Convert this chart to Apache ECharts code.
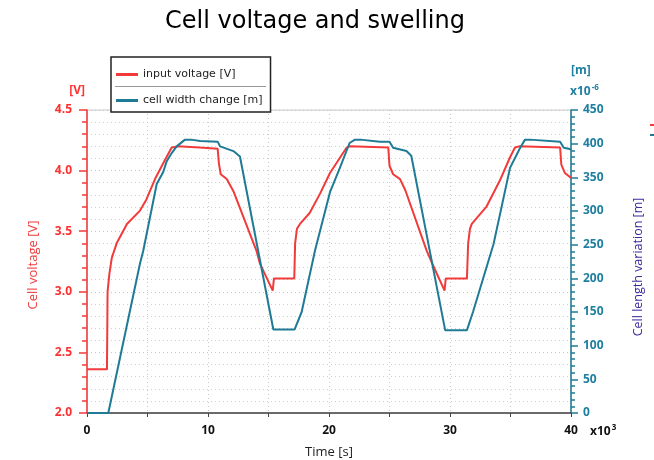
<!DOCTYPE html>
<html>
<head>
<meta charset="utf-8">
<script src="https://cdn.jsdelivr.net/npm/echarts@6/dist/echarts.min.js"></script>
<style>
  html, body { margin: 0; padding: 0; background: #fff; }
  #main { width: 654px; height: 460px; }
</style>
</head>
<body>
<div id="main"></div>
<script>
// time in 10^3 s, voltage in V
var voltageData = [
  [0, 2.36], [1.65, 2.36], [1.7, 3.0], [1.85, 3.15], [2.05, 3.28], [2.45, 3.40],
  [3.3, 3.56], [4.38, 3.67], [4.9, 3.76], [5.62, 3.93], [6.3, 4.06], [7.0, 4.19],
  [7.5, 4.2], [9.3, 4.19], [10.8, 4.18], [10.9, 4.06], [11.05, 3.97], [11.55, 3.93],
  [12.1, 3.83], [14.0, 3.34], [14.3, 3.23], [15.35, 3.01], [15.45, 3.11], [17.13, 3.11],
  [17.2, 3.4], [17.35, 3.52], [17.6, 3.56], [18.4, 3.65], [19.26, 3.81], [20.08, 3.98],
  [21.0, 4.12], [21.46, 4.19], [21.7, 4.2], [24.9, 4.19], [25.0, 4.04], [25.3, 3.97],
  [25.87, 3.93], [26.3, 3.84], [28.07, 3.34], [28.5, 3.24], [29.55, 3.01], [29.65, 3.11],
  [31.4, 3.11], [31.5, 3.4], [31.65, 3.52], [31.8, 3.56], [33.0, 3.70], [34.13, 3.92],
  [34.96, 4.11], [35.37, 4.19], [35.7, 4.2], [39.1, 4.19], [39.2, 4.05], [39.5, 3.98],
  [40, 3.94]
];
// time in 10^3 s, width change in 10^-6 m
var widthData = [
  [0, 0], [1.76, 0], [4.38, 222], [4.65, 241], [5.76, 340], [6.3, 358], [6.59, 374],
  [7.0, 386], [7.41, 396], [8.1, 406], [8.6, 406], [9.34, 404], [10.8, 403], [11.0, 396],
  [11.1, 394], [12.1, 389], [12.64, 381], [15.4, 124], [17.15, 124], [17.74, 150],
  [18.84, 241], [20.08, 328], [20.9, 364], [21.7, 401], [22.15, 406], [22.6, 406],
  [24.2, 403], [25.0, 403], [25.3, 394], [26.4, 389], [26.8, 382], [29.6, 123],
  [31.4, 123], [31.9, 150], [33.6, 251], [34.96, 364], [35.8, 394], [36.2, 406],
  [36.6, 406], [39.1, 403], [39.4, 394], [39.9, 392], [40, 391]
];
var seriesNames = ['input voltage [V]', 'cell width change [m]'];

var RED = '#f23a3a';
var TEAL = '#1f7b95';
var FONT = '"Open Sans", "Noto Sans", sans-serif';
var WIDE = '"DejaVu Sans", sans-serif';

var myChart = echarts.init(document.getElementById('main'));
var option = {
  animation: false,
  backgroundColor: '#fff',
  textStyle: { fontFamily: FONT },
  title: {
    text: 'Cell voltage and swelling',
    left: 160,
    top: 5,
    textStyle: { fontSize: 24, fontWeight: 'normal', color: '#000', fontFamily: WIDE }
  },
  legend: {
    orient: 'vertical',
    left: 111,
    top: 57,
    padding: [12, 8, 6, 5],
    itemGap: 15,
    itemWidth: 22,
    itemHeight: 3,
    icon: 'rect',
    backgroundColor: '#fff',
    borderColor: '#222',
    borderWidth: 1.5,
    borderRadius: 0,
    textStyle: { fontSize: 11, color: '#222', fontFamily: WIDE },
    data: seriesNames
  },
  grid: {
    left: 87, right: 83, top: 110, bottom: 47,
    outerBoundsMode: 'none',
    show: true, borderColor: '#c8c8c8', borderWidth: 1
  },
  xAxis: {
    type: 'value',
    min: 0, max: 40, interval: 5,
    name: 'Time [s]',
    nameLocation: 'middle',
    nameGap: 33,
    nameTextStyle: { fontSize: 13, color: '#222' },
    axisLine: { lineStyle: { color: '#444', width: 1.5 } },
    axisTick: { show: true, length: 4, lineStyle: { color: '#444' } },
    axisLabel: {
      margin: 12,
      color: '#111',
      fontWeight: 'bold',
      fontSize: 12,
      formatter: function (v) { return v % 10 === 0 ? v : ''; }
    },
    splitLine: { show: true, lineStyle: { color: '#c8c8c8', type: [1, 3] } }
  },
  yAxis: [
    {
      type: 'value',
      min: 2, max: 4.5, interval: 0.5,
      position: 'left',
      axisLine: { show: true, lineStyle: { color: RED, width: 1.5 } },
      axisTick: { show: true, length: 8, lineStyle: { color: RED, width: 1.5 } },
      minorTick: { show: true, splitNumber: 5, length: 5, lineStyle: { color: RED, width: 1.5 } },
      axisLabel: {
        margin: 15, color: '#ff3030', fontWeight: 'bold', fontSize: 12,
        formatter: function (v) { return v.toFixed(1); }
      },
      splitLine: { show: true, lineStyle: { color: '#c8c8c8', type: [1, 3] } },
      minorSplitLine: { show: true, lineStyle: { color: '#d0d0d0', type: [1, 3] } }
    },
    {
      type: 'value',
      min: 0, max: 450, interval: 50,
      position: 'right',
      axisLine: { show: true, lineStyle: { color: TEAL, width: 1.5 } },
      axisTick: { show: true, length: 7, lineStyle: { color: TEAL, width: 1.5 } },
      minorTick: { show: true, splitNumber: 5, length: 4, lineStyle: { color: TEAL, width: 1.5 } },
      axisLabel: { margin: 12, color: '#1f7fa0', fontWeight: 'bold', fontSize: 12 },
      splitLine: { show: false }
    }
  ],
  graphic: [
    // divider inside legend box
    { type: 'line', shape: { x1: 115, y1: 86.5, x2: 266, y2: 86.5 }, style: { stroke: '#999', lineWidth: 1 }, z: 100 },
    { type: 'text', x: 85, y: 91, style: { text: '[V]', fill: '#ff3030', font: 'bold 12px ' + FONT, align: 'right', verticalAlign: 'middle' } },
    { type: 'text', x: 571, y: 71, style: { text: '[m]', fill: '#1f7fa0', font: 'bold 12px ' + FONT, align: 'left', verticalAlign: 'middle' } },
    {
      type: 'text', x: 570, y: 92,
      style: {
        text: '{b|x10}{s|-6}', align: 'left', verticalAlign: 'middle',
        rich: {
          b: { fill: '#1f7fa0', font: 'bold 12px ' + FONT },
          s: { fill: '#1f7fa0', font: 'bold 8px ' + FONT, padding: [0, 0, 9, 1] }
        }
      }
    },
    {
      type: 'text', x: 590, y: 432,
      style: {
        text: '{b|x10}{s|3}', align: 'left', verticalAlign: 'middle',
        rich: {
          b: { fill: '#111', font: 'bold 12px ' + FONT },
          s: { fill: '#111', font: 'bold 8px ' + FONT, padding: [0, 0, 9, 1] }
        }
      }
    },
    { type: 'text', x: 33, y: 265, rotation: Math.PI / 2, style: { text: 'Cell voltage [V]', fill: '#f03c3c', font: '13px ' + FONT, align: 'center', verticalAlign: 'middle' } },
    { type: 'text', x: 638, y: 267, rotation: Math.PI / 2, style: { text: 'Cell length variation [m]', fill: '#3d2a9c', font: '12.5px ' + FONT, align: 'center', verticalAlign: 'middle' } },
    // clipped marks of a second legend at the right edge
    { type: 'rect', shape: { x: 650, y: 124, width: 4, height: 2 }, style: { fill: RED } },
    { type: 'rect', shape: { x: 650, y: 134, width: 4, height: 2 }, style: { fill: TEAL } }
  ],
  series: [
    {
      name: seriesNames[0],
      type: 'line',
      yAxisIndex: 0,
      symbol: 'none',
      lineStyle: { color: RED, width: 2 },
      itemStyle: { color: RED },
      data: voltageData
    },
    {
      name: seriesNames[1],
      type: 'line',
      yAxisIndex: 1,
      symbol: 'none',
      lineStyle: { color: TEAL, width: 2 },
      itemStyle: { color: TEAL },
      data: widthData
    }
  ]
};
myChart.setOption(option);
window.addEventListener('resize', function () { myChart.resize(); });
</script>
</body>
</html>
